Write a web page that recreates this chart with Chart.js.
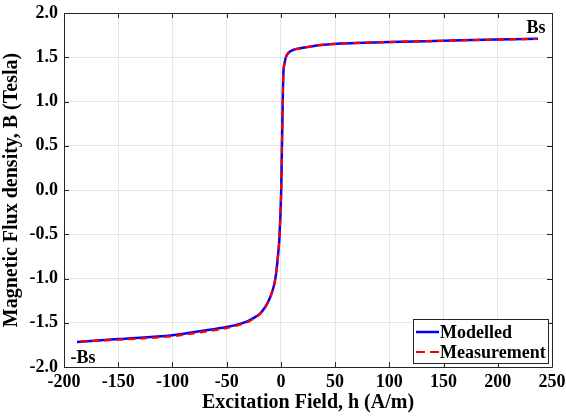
<!DOCTYPE html>
<html>
<head>
<meta charset="utf-8">
<script src="https://cdn.jsdelivr.net/npm/chart.js@4.4.1/dist/chart.umd.min.js"></script>
<style>
html,body{margin:0;padding:0;background:#fff;}
#wrap{width:566px;height:420px;position:relative;}
</style>
</head>
<body>
<div id="wrap"><canvas id="c" width="566" height="420"></canvas></div>
<script>
// Modelled curve (h in A/m, B in Tesla)
const modelH = [-188,-150,-100,-75,-50,-37,-30,-25,-19,-14.6,-12,-8.5,-6,-4.5,-3,-1.5,0.3,1.0,1.6,2.2,3.2,4.6,7,10,15,20,26.7,35,45,55,70,100,150,200,237];
const modelB = [-1.717,-1.684,-1.640,-1.595,-1.548,-1.51,-1.478,-1.445,-1.393,-1.325,-1.27,-1.167,-1.06,-0.95,-0.78,-0.565,0,0.5,0.94,1.30,1.42,1.50,1.55,1.575,1.595,1.607,1.62,1.636,1.648,1.654,1.662,1.672,1.686,1.700,1.708];
// Measurement curve
const measH = [-185,-150,-100,-75,-50,-37,-30,-25,-19,-14.6,-12,-8.5,-6,-4.5,-3,-1.5,0.3,1.0,1.6,2.2,3.2,4.6,7,10,15,20,26.7,35,45,55,70,100,150,200,236];
const measB = [-1.712,-1.692,-1.652,-1.610,-1.560,-1.52,-1.488,-1.452,-1.398,-1.328,-1.272,-1.167,-1.06,-0.95,-0.78,-0.565,0,0.5,0.94,1.30,1.42,1.50,1.55,1.575,1.595,1.607,1.62,1.636,1.648,1.654,1.662,1.672,1.686,1.700,1.708];
const xTicks = [-200,-150,-100,-50,0,50,100,150,200,250];
const yTicks = [-2.0,-1.5,-1.0,-0.5,0,0.5,1.0,1.5,2.0];
const seriesNames = ['Modelled','Measurement'];
const annoTexts = ['Bs','-Bs'];

const toPts = (hs, bs) => hs.map((h, i) => ({x: h, y: bs[i]}));
const FONT = "'Liberation Serif', 'Times New Roman', serif";

const frame = {
  id: 'frame',
  afterDraw(chart) {
    const ctx = chart.ctx, a = chart.chartArea;
    const xs = chart.scales.x, ys = chart.scales.y;
    ctx.save();
    ctx.strokeStyle = '#262626';
    ctx.lineWidth = 1;
    ctx.beginPath();
    ctx.rect(Math.round(a.left) + 0.5, Math.round(a.top) + 0.5, Math.round(a.right - a.left), Math.round(a.bottom - a.top));
    ctx.stroke();
    const tl = 5;
    ctx.beginPath();
    xTicks.forEach(v => {
      const p = Math.round(xs.getPixelForValue(v)) + 0.5;
      ctx.moveTo(p, a.bottom); ctx.lineTo(p, a.bottom - tl);
      ctx.moveTo(p, a.top); ctx.lineTo(p, a.top + tl);
    });
    yTicks.forEach(v => {
      const p = Math.round(ys.getPixelForValue(v)) + 0.5;
      ctx.moveTo(a.left, p); ctx.lineTo(a.left + tl, p);
      ctx.moveTo(a.right, p); ctx.lineTo(a.right - tl, p);
    });
    ctx.stroke();

    // annotations
    ctx.fillStyle = '#000';
    ctx.font = "bold 18px " + FONT;
    ctx.textAlign = 'center';
    ctx.textBaseline = 'middle';
    const last = modelH.length - 1;
    ctx.fillText(annoTexts[0], xs.getPixelForValue(modelH[last]) - 2, ys.getPixelForValue(modelB[last]) - 10);
    ctx.fillText(annoTexts[1], xs.getPixelForValue(modelH[0]) + 6, ys.getPixelForValue(modelB[0]) + 16);

    // legend
    const lx = 413, ly = 319, lw = 135, lh = 44;
    ctx.fillStyle = '#fff';
    ctx.fillRect(lx, ly, lw, lh);
    ctx.strokeStyle = '#262626';
    ctx.strokeRect(lx + 0.5, ly + 0.5, lw, lh);
    const ds = chart.data.datasets;
    const rows = [ly + 13, ly + 33];
    ds.forEach((d, i) => {
      const y = rows[i];
      ctx.beginPath();
      ctx.strokeStyle = d.borderColor;
      ctx.lineWidth = d.borderWidth;
      ctx.setLineDash(d.borderDash ? [9, 5] : []);
      ctx.moveTo(lx + 3, y); ctx.lineTo(lx + 26, y);
      ctx.stroke();
      ctx.setLineDash([]);
      ctx.fillStyle = '#000';
      ctx.font = "bold 18px " + FONT;
      ctx.textAlign = 'left';
      ctx.textBaseline = 'middle';
      ctx.fillText(d.label, lx + 27, y + 1);
    });
    ctx.restore();
  }
};

new Chart(document.getElementById('c'), {
  type: 'line',
  data: {
    datasets: [
      { label: seriesNames[0], data: toPts(modelH, modelB), borderColor: '#0000ff', borderWidth: 2.5,
        pointRadius: 0, fill: false, cubicInterpolationMode: 'monotone', order: 1 },
      { label: seriesNames[1], data: toPts(measH, measB), borderColor: '#ff0000', borderWidth: 2.2,
        borderDash: [7, 5], pointRadius: 0, fill: false, cubicInterpolationMode: 'monotone', order: 0 }
    ]
  },
  options: {
    responsive: false,
    animation: false,
    layout: { padding: { left: 0, right: 14, top: 13, bottom: 0 } },
    plugins: { legend: { display: false }, tooltip: { enabled: false } },
    scales: {
      x: {
        type: 'linear', min: -200, max: 250,
        afterBuildTicks: s => { s.ticks = xTicks.map(v => ({value: v})); },
        afterFit: s => { s.height = 53; s.paddingLeft = 0; s.paddingRight = 0; },
        grid: { color: '#e6e6e6', drawTicks: false },
        border: { display: false },
        ticks: { color: '#000', font: { family: FONT, size: 18, weight: 'bold' }, padding: 5, maxRotation: 0 },
        title: { display: true, text: 'Excitation Field, h (A/m)', color: '#000',
          font: { family: FONT, size: 20, weight: 'bold' }, padding: { top: 0, bottom: 5 } }
      },
      y: {
        type: 'linear', min: -2, max: 2,
        afterBuildTicks: s => { s.ticks = yTicks.map(v => ({value: v})); },
        afterFit: s => { s.width = 64; s.paddingTop = 0; s.paddingBottom = 0; },
        grid: { color: '#e6e6e6', drawTicks: false },
        border: { display: false },
        ticks: { color: '#000', font: { family: FONT, size: 18, weight: 'bold' }, padding: 6,
          callback: v => v.toFixed(1) },
        title: { display: true, text: 'Magnetic Flux density, B (Tesla)', color: '#000',
          font: { family: FONT, size: 20, weight: 'bold' }, padding: { top: 0, bottom: 0 } }
      }
    }
  },
  plugins: [frame]
});
</script>
</body>
</html>
